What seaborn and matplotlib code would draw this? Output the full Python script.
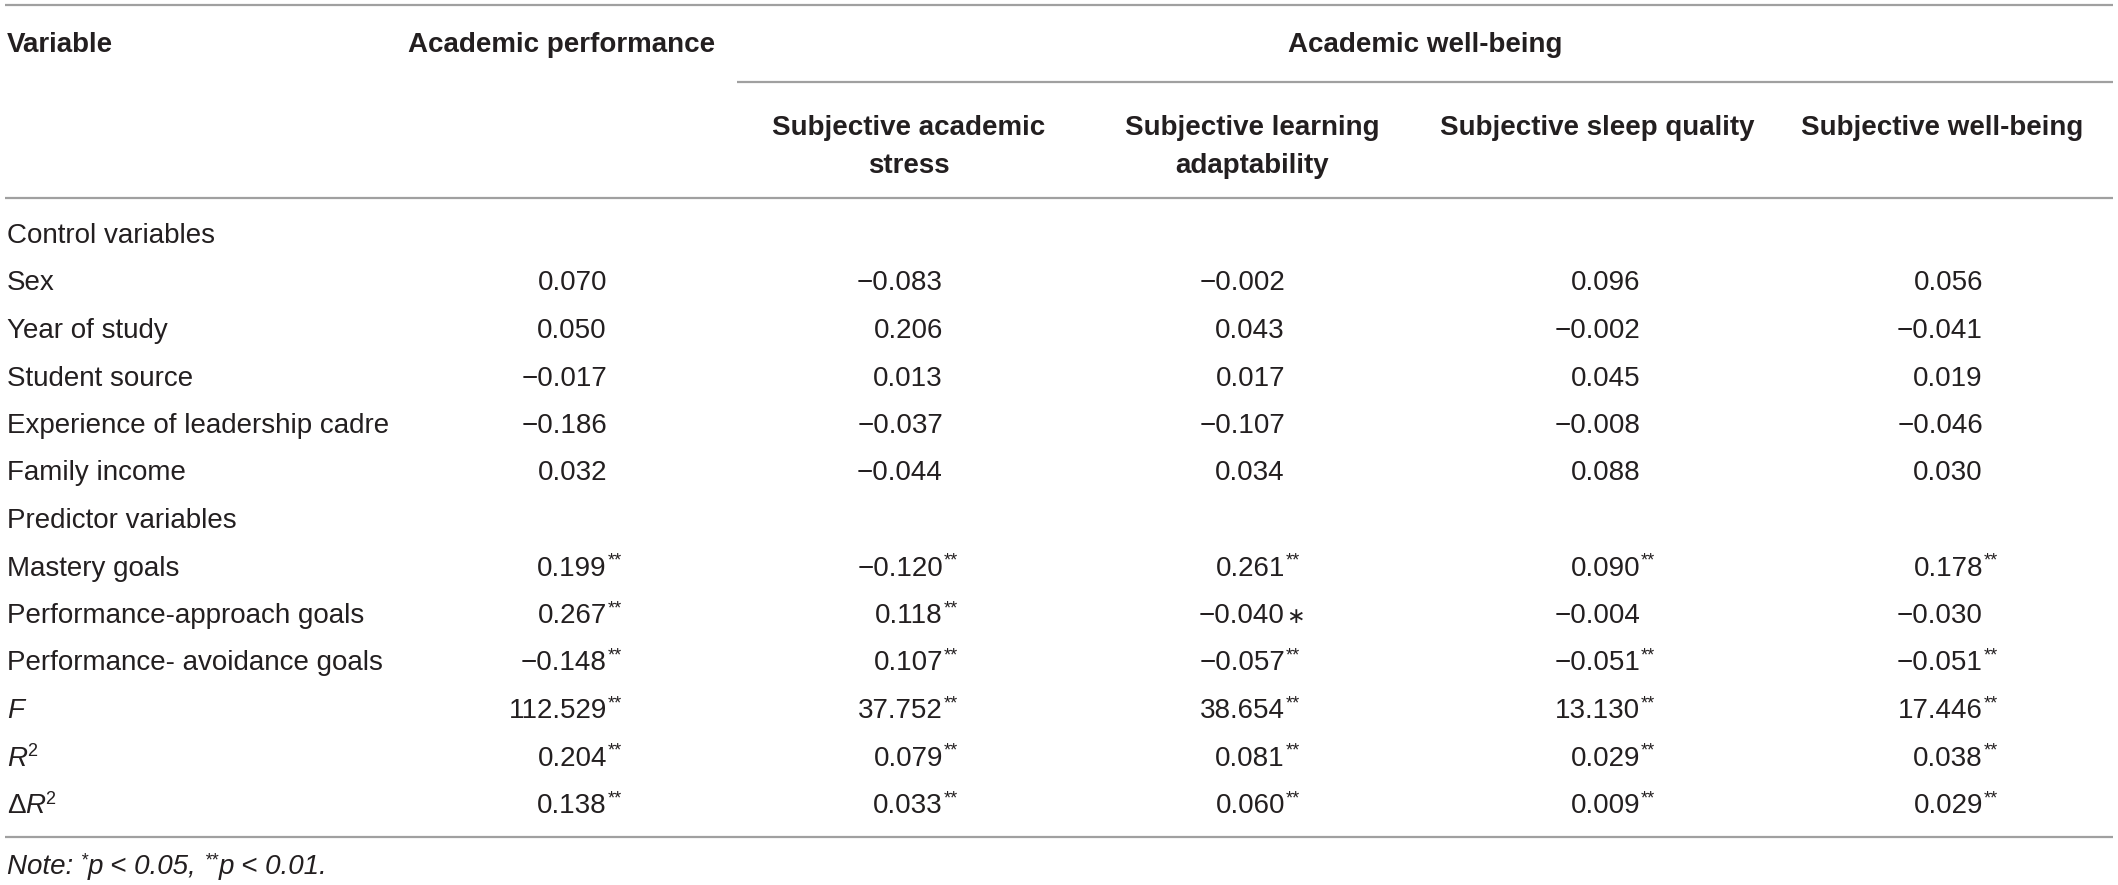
import matplotlib
matplotlib.use("Agg")
import matplotlib.pyplot as plt
import seaborn as sns
import pandas as pd

# ---------------- data ----------------
row_labels = ["Control variables", "Sex", "Year of study", "Student source",
              "Experience of leadership cadre", "Family income", "Predictor variables",
              "Mastery goals", "Performance-approach goals", "Performance- avoidance goals",
              "F", "R2", "dR2"]

academic_performance = [None, 0.070, 0.050, -0.017, -0.186, 0.032, None,
                        0.199, 0.267, -0.148, 112.529, 0.204, 0.138]
sig_performance = ["", "", "", "", "", "", "", "**", "**", "**", "**", "**", "**"]

academic_stress = [None, -0.083, 0.206, 0.013, -0.037, -0.044, None,
                   -0.120, 0.118, 0.107, 37.752, 0.079, 0.033]
sig_stress = ["", "", "", "", "", "", "", "**", "**", "**", "**", "**", "**"]

learning_adaptability = [None, -0.002, 0.043, 0.017, -0.107, 0.034, None,
                         0.261, -0.040, -0.057, 38.654, 0.081, 0.060]
sig_adaptability = ["", "", "", "", "", "", "", "**", "\u2217", "**", "**", "**", "**"]

sleep_quality = [None, 0.096, -0.002, 0.045, -0.008, 0.088, None,
                 0.090, -0.004, -0.051, 13.130, 0.029, 0.009]
sig_sleep = ["", "", "", "", "", "", "", "**", "", "**", "**", "**", "**"]

well_being = [None, 0.056, -0.041, 0.019, -0.046, 0.030, None,
              0.178, -0.030, -0.051, 17.446, 0.038, 0.029]
sig_wellbeing = ["", "", "", "", "", "", "", "**", "", "**", "**", "**", "**"]

sub_headers = [["Subjective academic", "stress"],
               ["Subjective learning", "adaptability"],
               ["Subjective sleep quality"],
               ["Subjective well-being"]]

columns = [academic_performance, academic_stress, learning_adaptability, sleep_quality, well_being]
sigs = [sig_performance, sig_stress, sig_adaptability, sig_sleep, sig_wellbeing]

df = pd.DataFrame({"label": row_labels})

# ---------------- style ----------------
sns.set_theme(style="white")
plt.rcParams["font.family"] = ["Liberation Sans", "DejaVu Sans"]
TXT = "#231f20"
LINE = "#a0a0a0"
FS = 20

W, H = 2118, 885
fig = plt.figure(figsize=(W / 100, H / 100), dpi=100)
ax = fig.add_axes([0, 0, 1, 1])
ax.set_xlim(0, W)
ax.set_ylim(H, 0)
ax.axis("off")
renderer = fig.canvas.get_renderer()


def run_text(x, y, runs):
    """Draw consecutive text runs starting at x on baseline y (data px)."""
    cx = x
    for s, kw, dy in runs:
        t = ax.text(cx, y - dy, s, ha="left", va="baseline", color=TXT, **kw)
        bb = t.get_window_extent(renderer=renderer)
        cx += bb.width
    return cx


# lines
ax.hlines([5, 198, 837], 5, 2113, color=LINE, lw=1.6)
ax.hlines(82, 737, 2113, color=LINE, lw=1.6)

# headers
BASE = 10
ax.text(7, 42 + BASE, "Variable", fontsize=FS, fontweight="bold", color=TXT, va="baseline", ha="left")
ax.text(562, 42 + BASE, "Academic performance", fontsize=FS, fontweight="bold", color=TXT,
        va="baseline", ha="center")
ax.text(1425, 42 + BASE, "Academic well-being", fontsize=FS, fontweight="bold", color=TXT,
        va="baseline", ha="center")
sub_centers = [909, 1252, 1597, 1942]
for cx, lines in zip(sub_centers, sub_headers):
    for k, ln in enumerate(lines):
        ax.text(cx, 125 + 38 * k + BASE, ln, fontsize=FS, fontweight="bold", color=TXT,
                va="baseline", ha="center")

# rows
row_y0, row_dy = 233, 47.5
col_right = [607, 943, 1285, 1640, 1983]
norm = dict(fontsize=FS)
ital = dict(fontsize=FS, style="italic")
sup = dict(fontsize=13)

for i, lab in enumerate(df["label"]):
    y = row_y0 + row_dy * i + BASE
    if lab == "F":
        run_text(7, y, [("F", ital, 0)])
    elif lab == "R2":
        run_text(7, y, [("R", ital, 0), ("2", sup, 9)])
    elif lab == "dR2":
        run_text(7, y, [("\u0394", norm, 0), ("R", ital, 0), ("2", sup, 9)])
    else:
        ax.text(7, y, lab, fontsize=FS, color=TXT, va="baseline", ha="left")
    for vals, sg, xr in zip(columns, sigs, col_right):
        v = vals[i]
        if v is None:
            continue
        s = f"{v:.3f}".replace("-", "\u2212")
        ax.text(xr, y, s, fontsize=FS, color=TXT, va="baseline", ha="right")
        star = sg[i]
        if star == "**":
            ax.text(xr + 1, y - 10, "**", fontsize=13, color=TXT, va="baseline", ha="left")
        elif star:
            ax.text(xr + 1, y, star, fontsize=16, color=TXT, va="baseline", ha="left",
                    family=["DejaVu Sans"])

# note
note_y = 864 + BASE
run_text(7, note_y, [("Note: ", ital, 0), ("*", dict(fontsize=13, style="italic"), 9),
                     ("p < 0.05, ", ital, 0), ("**", dict(fontsize=13, style="italic"), 9),
                     ("p < 0.01.", ital, 0)])

fig.savefig("out.png", dpi=100)
